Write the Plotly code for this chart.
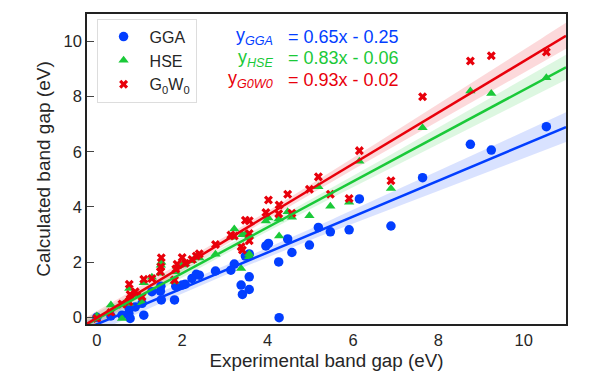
import numpy as np
import plotly.graph_objects as go

# ---- data ----
exp_gap = [0.00, 0.33, 0.59, 0.75, 0.78, 0.76, 0.90, 1.06, 1.10, 1.29, 1.49, 1.50, 1.51,
           1.82, 1.85, 1.88, 2.00, 2.07, 2.23, 2.33, 2.40, 2.78, 3.14, 3.22, 3.38, 3.41,
           3.48, 3.57, 3.57, 3.57, 3.96, 4.02, 4.26, 4.27, 4.47, 4.57, 4.98, 5.19, 5.47,
           5.91, 6.15, 6.89, 7.63, 8.75, 9.24, 10.53]
gga = [0.00, 0.05, 0.08, 0.14, -0.04, 0.30, 0.38, 0.51, 0.08, 0.93, 0.95, 1.13, 0.63,
       0.63, 1.13, 1.11, 1.17, 1.20, 1.41, 1.56, 1.53, 1.68, 1.71, 1.93, 1.17, 0.83,
       2.22, 1.47, 1.01, 2.30, 2.59, 2.68, 2.01, -0.01, 2.84, 2.35, 2.62, 3.26, 3.10,
       3.17, 4.29, 3.31, 5.06, 6.27, 6.06, 6.91]
hse = [0.05, 0.45, -0.04, 0.50, 0.75, 1.05, 0.80, 0.53, 1.25, 1.45, 1.60, 1.89, 2.00,
       1.30, 1.65, 1.85, 1.90, 1.95, 2.05, 2.20, 2.15, 2.29, 2.90, 3.20, 1.77, 2.99,
       3.00, 2.20, 2.30, 2.95, 3.49, 3.60, 3.56, 2.95, 3.83, 3.63, 3.68, 4.73, 4.03,
       4.17, 5.66, 4.67, 6.87, 8.20, 8.11, 8.68]
g0w0 = [-0.04, 0.18, 0.48, 0.57, 0.83, 1.20, 0.93, 0.75, 1.38, 1.41, 1.65, 1.83, 2.16,
        1.35, 1.75, 1.92, 2.17, 1.96, 2.10, 2.22, 2.30, 2.64, 2.98, 2.95, 2.56, 2.44,
        3.52, 3.50, 3.04, 2.78, 3.80, 4.25, 3.75, 4.07, 4.46, 3.77, 4.64, 5.09, 4.46,
        4.31, 6.04, 4.95, 7.99, 9.29, 9.48, 9.61]

series_names = ["GGA", "HSE", "G<sub>0</sub>W<sub>0</sub>"]
series_values = [gga, hse, g0w0]
fit_slopes = [0.65, 0.83, 0.93]
fit_intercepts = [-0.25, -0.06, -0.02]
eq_labels = ["y<sub><i>GGA</i></sub>", "y<sub><i>HSE</i></sub>", "y<sub><i>G0W0</i></sub>"]
eq_texts = ["= 0.65x - 0.25", "= 0.83x - 0.06", "= 0.93x - 0.02"]

x_ticks = [0, 2, 4, 6, 8, 10]
y_ticks = [0, 2, 4, 6, 8, 10]

# ---- styles ----
colors = ["#023eff", "#1ac938", "#e8000b"]
fills = ["rgba(2,62,255,0.15)", "rgba(26,201,56,0.15)", "rgba(232,0,11,0.15)"]
symbols = ["circle", "triangle-up", "x"]
sizes = [9.5, 9, 8]
XR = [-0.23, 10.99]
YR = [-0.24, 10.99]
FONT = "Liberation Sans, Arial, sans-serif"

fig = go.Figure()
xs = np.array(exp_gap)
xg = np.linspace(XR[0], XR[1], 120)
n = len(xs)
xbar = xs.mean()
sxx = ((xs - xbar) ** 2).sum()

for i in range(3):
    ys = np.array(series_values[i])
    m, b = fit_slopes[i], fit_intercepts[i]
    resid = ys - (m * xs + b)
    s = np.sqrt((resid ** 2).sum() / (n - 2))
    se = s * np.sqrt(1.0 / n + (xg - xbar) ** 2 / sxx)
    yl = m * xg + b
    fig.add_trace(go.Scatter(x=np.concatenate([xg, xg[::-1]]),
                             y=np.concatenate([yl + 1.96 * se, (yl - 1.96 * se)[::-1]]),
                             fill="toself", fillcolor=fills[i], line=dict(width=0),
                             hoverinfo="skip", showlegend=False))

for i in range(3):
    fig.add_trace(go.Scatter(x=exp_gap, y=series_values[i], mode="markers",
                             name=series_names[i],
                             marker=dict(color=colors[i], symbol=symbols[i], size=sizes[i],
                                         line=dict(width=0))))

for i in range(3):
    m, b = fit_slopes[i], fit_intercepts[i]
    fig.add_trace(go.Scatter(x=xg, y=m * xg + b, mode="lines",
                             line=dict(color=colors[i], width=2.5),
                             showlegend=False, hoverinfo="skip"))

eq_y = [0.926, 0.858, 0.788]
for i in range(3):
    fig.add_annotation(x=0.392, y=eq_y[i], xref="paper", yref="paper",
                       text=eq_labels[i], showarrow=False, xanchor="right", yanchor="middle",
                       font=dict(family=FONT, size=18, color=colors[i]))
    fig.add_annotation(x=0.415, y=eq_y[i], xref="paper", yref="paper",
                       text=eq_texts[i], showarrow=False, xanchor="left", yanchor="middle",
                       font=dict(family=FONT, size=18, color=colors[i]))

fig.update_layout(
    width=600, height=380,
    margin=dict(l=87, r=34, t=14, b=56),
    paper_bgcolor="white", plot_bgcolor="white",
    font=dict(family=FONT, size=16.5, color="#262626"),
    legend=dict(x=0.02, y=0.985, xanchor="left", yanchor="top",
                bgcolor="white", bordercolor="#dddddd", borderwidth=1,
                font=dict(size=16, color="#262626"), itemwidth=42),
    xaxis=dict(range=XR, tickvals=x_ticks, ticktext=[str(t) for t in x_ticks],
               showgrid=False, zeroline=False, showline=True, linecolor="#222",
               linewidth=1.5, mirror=True, ticks="",
               title=dict(text="Experimental band gap (eV)", font=dict(size=18.8), standoff=6)),
    yaxis=dict(range=YR, tickvals=y_ticks, ticktext=[str(t) for t in y_ticks],
               showgrid=False, zeroline=False, showline=True, linecolor="#222",
               linewidth=1.5, mirror=True, ticks="inside", ticklen=7, tickcolor="#444",
               title=dict(text="Calculated band gap (eV)", font=dict(size=19), standoff=8)),
)

fig.write_html("out.html", config={"displayModeBar": False},
               post_script="document.body.style.margin='0';")
